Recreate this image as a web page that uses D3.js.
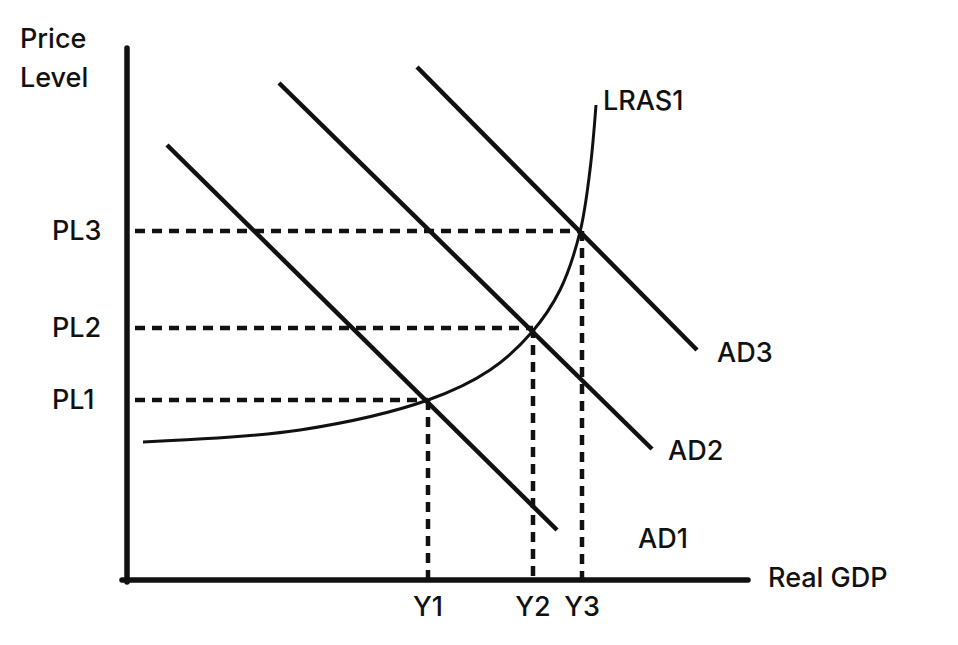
<!DOCTYPE html>
<html><head><meta charset="utf-8">
<script src="https://cdn.jsdelivr.net/npm/d3@7"></script>
<style>body{margin:0;background:#fff}text{font-family:Inter,"Noto Sans",sans-serif;font-size:27px;font-weight:500;fill:#111}</style>
</head><body>
<svg id="c" width="958" height="645"></svg>
<script>
// data in chart units (x: real GDP, y: price level)
const ad1 = [[42,435],[432,50]];
const ad2 = [[154,497],[527,131]];
const ad3 = [[292,513],[572,230]];
const lras = [[18,138],[175,150],[303,180],[365,210],[407,248],[435,290],[455,348],[465,410],[471,475]];
const eqPoints = [{label:"1",x:303,y:180},{label:"2",x:408,y:252},{label:"3",x:457,y:349}];
const adLabels = [{t:"AD3",x:592,y:218},{t:"AD2",x:543,y:120},{t:"AD1",x:513,y:32}];

const svg = d3.select("#c");
const x = d3.scaleLinear().domain([0,620]).range([125,745]);
const y = d3.scaleLinear().domain([0,530]).range([580,50]);
const line = d3.line().x(d=>x(d[0])).y(d=>y(d[1]));

// axes
svg.append("line").attr("x1",x(2)).attr("x2",x(2)).attr("y1",y(532)).attr("y2",y(-2)).attr("stroke","#111").attr("stroke-width",5.5).attr("stroke-linecap","round");
svg.append("line").attr("x1",x(-3)).attr("x2",x(623)).attr("y1",y(0)).attr("y2",y(0)).attr("stroke","#111").attr("stroke-width",5.5).attr("stroke-linecap","round");

// dashed guides
eqPoints.forEach(p=>{
  svg.append("line").attr("x1",x(10)).attr("x2",x(p.x)).attr("y1",y(p.y)).attr("y2",y(p.y)).attr("stroke","#111").attr("stroke-width",4.5).attr("stroke-dasharray","10,7");
  svg.append("line").attr("x1",x(p.x)).attr("x2",x(p.x)).attr("y1",y(p.y)).attr("y2",y(0)).attr("stroke","#111").attr("stroke-width",4.5).attr("stroke-dasharray","10,7");
  svg.append("text").attr("x",x(p.x)).attr("y",616).attr("text-anchor","middle").text("Y"+p.label);
  svg.append("text").attr("x",52).attr("y",y(p.y)+9).text("PL"+p.label);
});

// AD lines
[ad1,ad2,ad3].forEach(d=>svg.append("path").attr("d",line(d)).attr("stroke","#111").attr("stroke-width",4.5).attr("fill","none"));
// LRAS curve
svg.append("path").attr("d",d3.line().x(d=>x(d[0])).y(d=>y(d[1])).curve(d3.curveCatmullRom)(lras)).attr("stroke","#111").attr("stroke-width",3).attr("fill","none");

adLabels.forEach(l=>svg.append("text").attr("x",x(l.x)).attr("y",y(l.y)).text(l.t));
svg.append("text").attr("x",603).attr("y",110).text("LRAS1");
svg.append("text").attr("x",768).attr("y",587).text("Real GDP");
svg.append("text").attr("x",20).attr("y",48).text("Price");
svg.append("text").attr("x",20).attr("y",87).text("Level");
</script>
</body></html>
